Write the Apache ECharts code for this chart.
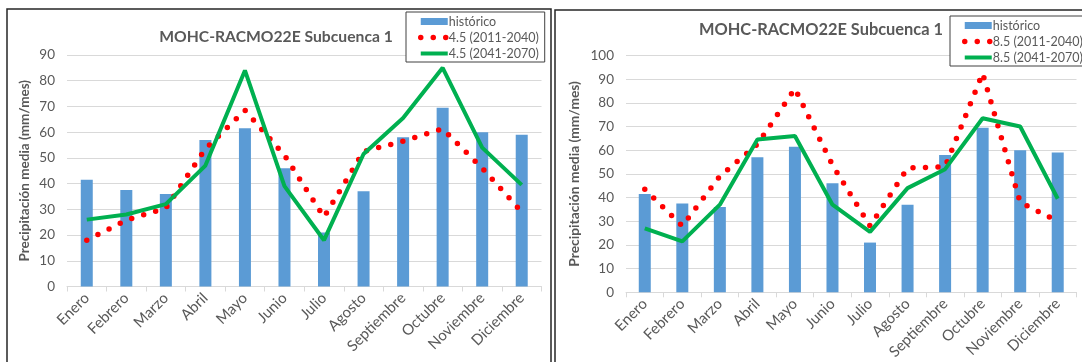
<!DOCTYPE html>
<html>
<head>
<meta charset="utf-8">
<script src="https://cdn.jsdelivr.net/npm/echarts@6/dist/echarts.min.js"></script>
<style>
html,body{margin:0;padding:0;background:#fff;}
#c{width:1082px;height:362px;}
</style>
</head>
<body>
<div id="c"></div>
<script>
const months = ['Enero','Febrero','Marzo','Abril','Mayo','Junio','Julio','Agosto','Septiembre','Octubre','Noviembre','Diciembre'];
const historico = [41.5, 37.5, 36, 57, 61.5, 46, 21, 37, 58, 69.5, 60, 59];
const rcp45_2011_2040 = [18, 25.8, 30.5, 53.5, 68.5, 51, 27, 52.5, 56.5, 61.3, 46, 29];
const rcp45_2041_2070 = [26, 28, 32, 47, 84, 39, 18, 51.5, 65.5, 85, 54, 39.5];
const rcp85_2011_2040 = [43.5, 28, 49, 62.5, 86, 53.7, 28, 52.5, 53, 92.5, 38, 30];
const rcp85_2041_2070 = [27, 21.5, 37, 64.5, 66, 37, 25.5, 44, 52, 73.5, 70, 39.5];
const yTicksLeft = {min: 0, max: 90, interval: 10};
const yTicksRight = {min: 0, max: 100, interval: 10};
const titleText = 'MOHC-RACMO22E Subcuenca 1';
const yName = 'Precipitación media (mm/mes)';
const names = {
  hist: 'histórico',
  a1: '4.5 (2011-2040)', a2: '4.5 (2041-2070)',
  b1: '8.5 (2011-2040)', b2: '8.5 (2041-2070)'
};

const FONT = 'Lato';
const GRAY = '#595959';
const BLUE = '#5b9bd5';
const GREEN = '#00b050';
const RED = '#ff0000';

const chart = echarts.init(document.getElementById('c'), null, {renderer: 'canvas'});

function xAxis(gi, fs) {
  return {
    type: 'category', gridIndex: gi, data: months,
    axisLine: {lineStyle: {color: '#d9d9d9', width: 1}},
    axisTick: {show: true, length: 5, lineStyle: {color: '#d9d9d9'}},
    axisLabel: {rotate: 45, color: GRAY, fontSize: fs, fontFamily: FONT, margin: 9, interval: 0}
  };
}
function yAxis(gi, t, gap, fs) {
  return {
    type: 'value', gridIndex: gi, min: t.min, max: t.max, interval: t.interval,
    name: yName, nameLocation: 'middle', nameGap: gap,
    nameTextStyle: {color: GRAY, fontWeight: 'bold', fontSize: fs, fontFamily: FONT},
    axisLine: {show: false}, axisTick: {show: false},
    axisLabel: {color: GRAY, fontSize: 13.5, fontFamily: FONT, margin: 12},
    splitLine: {lineStyle: {color: '#d9d9d9', width: 1}}
  };
}
function bar(i) {
  return {name: names.hist, type: 'bar', xAxisIndex: i, yAxisIndex: i, data: historico,
    barWidth: 12, itemStyle: {color: BLUE}, silent: true};
}
function dotted(i, name, data) {
  return {name: name, type: 'line', xAxisIndex: i, yAxisIndex: i, data: data,
    symbol: 'none', smooth: false, z: 3,
    lineStyle: {color: RED, width: 5.5, type: [0, 12.5], cap: 'round'},
    itemStyle: {color: RED}};
}
function solid(i, name, data) {
  return {name: name, type: 'line', xAxisIndex: i, yAxisIndex: i, data: data,
    symbol: 'none', smooth: false, z: 4,
    lineStyle: {color: GREEN, width: 4}, itemStyle: {color: GREEN}};
}
function legend(left, top, list) {
  return {
    orient: 'vertical', left: left, top: top,
    padding: [3, 6, 2, 12], itemGap: 3,
    borderColor: '#404040', borderWidth: 1, backgroundColor: '#fff',
    itemWidth: 27, itemHeight: 7,
    textStyle: {color: GRAY, fontSize: 12.5, fontFamily: FONT, padding: [0, 0, 0, -4]},
    data: [
      {name: list[0], icon: 'rect'},
      {name: list[1], itemStyle: {opacity: 0}, lineStyle: {width: 5.5, type: [0, 12.5], cap: 'round', color: RED}},
      {name: list[2], itemStyle: {opacity: 0}, lineStyle: {width: 4, color: GREEN}}
    ],
    selectedMode: false
  };
}

const option = {
  animation: false,
  backgroundColor: '#fff',
  grid: [
    {left: 67, top: 55, width: 474.5, height: 231.5},
    {left: 626, top: 55.5, width: 450.5, height: 236.8}
  ],
  xAxis: [xAxis(0, 15), xAxis(1, 15)],
  yAxis: [yAxis(0, yTicksLeft, 35, 13.5), yAxis(1, yTicksRight, 44, 13.8)],
  legend: [
    legend(406, 12, [names.hist, names.a1, names.a2]),
    legend(950, 16, [names.hist, names.b1, names.b2])
  ],
  series: [
    bar(0), dotted(0, names.a1, rcp45_2011_2040), solid(0, names.a2, rcp45_2041_2070),
    bar(1), dotted(1, names.b1, rcp85_2011_2040), solid(1, names.b2, rcp85_2041_2070)
  ],
  graphic: [
    {type: 'rect', shape: {x: 7, y: 9, width: 544, height: 370}, style: {fill: 'none', stroke: '#262626', lineWidth: 1.5}, z: 100},
    {type: 'rect', shape: {x: 555, y: 10, width: 560, height: 370}, style: {fill: 'none', stroke: '#262626', lineWidth: 1.5}, z: 100},
    {type: 'text', x: 276, y: 37, style: {text: titleText, fill: GRAY, font: 'bold 15.7px ' + FONT, textAlign: 'center', textVerticalAlign: 'middle'}, z: 100},
    {type: 'text', x: 821, y: 30, style: {text: titleText, fill: GRAY, font: 'bold 16.4px ' + FONT, textAlign: 'center', textVerticalAlign: 'middle'}, z: 100}
  ]
};
chart.setOption(option);
</script>
</body>
</html>
